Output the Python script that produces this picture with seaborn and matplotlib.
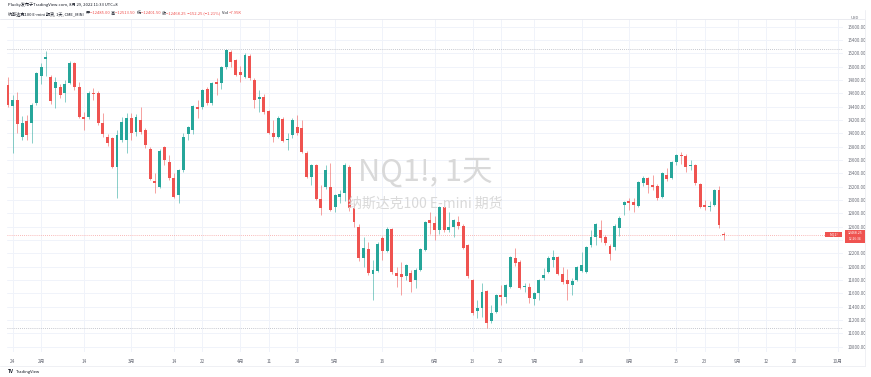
import numpy as np
import pandas as pd
import matplotlib
matplotlib.use("Agg")
import matplotlib.pyplot as plt
from matplotlib.lines import Line2D
from matplotlib.patches import Rectangle
import seaborn as sns

# ---------------- data ----------------
opens = [14725, 14410, 14500, 13945, 14185, 14155, 14455, 14860, 15115, 14845,
         14680, 14695, 14605, 14755, 15055, 14695, 14245, 14245, 14605, 14605,
         14155, 13945, 13930, 13495, 13900, 13900, 14230, 14020, 14200, 14050,
         13765, 13285, 13195, 13795, 13570, 13330, 13075, 13450, 13990, 14050,
         14395, 14395, 14665, 14455, 14770, 14755, 14995, 15220, 15100, 14920,
         14845, 15160, 14800, 14515, 14545, 14335, 14005, 13945, 14215, 13900,
         13975, 14095, 14080, 13705, 13345, 13525, 13015, 13195, 13195, 12895,
         13045, 13105, 13495, 12880, 12595, 12130, 12265, 11890, 11935, 12430,
         12235, 12565, 11905, 11890, 11860, 11905, 11800, 11950, 12250, 12700,
         12655, 12550, 12895, 12550, 12595, 12670, 12610, 12325, 11800, 11335,
         11380, 11635, 11185, 11320, 11575, 11545, 11695, 12130, 12070, 11695,
         11695, 11515, 11605, 11830, 11920, 12100, 12145, 11890, 11800, 11725,
         11800, 11935, 11920, 12325, 12445, 12550, 12445, 12310, 12295, 12580,
         12925, 12985, 12970, 12910, 13255, 13330, 13225, 13210, 13045, 13375,
         13330, 13570, 13675, 13660, 13510, 13525, 13240, 12925, 12895, 12925,
         13150, 12485]
highs = [14845, 14575, 14620, 14260, 14275, 14455, 14920, 15050, 15235, 14875,
         14845, 14740, 14800, 15085, 15070, 14770, 14320, 14635, 14680, 14635,
         14305, 13990, 13945, 14050, 14245, 14305, 14305, 14290, 14395, 14080,
         13795, 13405, 13765, 13810, 13675, 13405, 13465, 14005, 14110, 14425,
         14500, 14665, 14695, 14770, 14830, 15010, 15265, 15250, 15115, 15010,
         15205, 15190, 14830, 14650, 14590, 14350, 14200, 14260, 14245, 14005,
         14230, 14275, 14200, 13735, 13540, 13540, 13225, 13525, 13555, 13090,
         13150, 13555, 13525, 12955, 12640, 12450, 12370, 12100, 12370, 12460,
         12595, 12580, 11995, 12070, 12040, 11950, 11980, 12280, 12685, 12820,
         12760, 12910, 12925, 12820, 12720, 12760, 12640, 12340, 11815, 11500,
         11755, 11650, 11425, 11590, 11725, 11740, 12160, 12280, 12100, 11760,
         11755, 11620, 11815, 11980, 12160, 12250, 12160, 11995, 11965, 11830,
         12010, 12220, 12310, 12550, 12655, 12700, 12475, 12340, 12640, 12760,
         12985, 13030, 13030, 13285, 13360, 13345, 13375, 13240, 13420, 13480,
         13585, 13690, 13720, 13690, 13600, 13540, 13255, 13000, 12990, 13165,
         13210, 12513.5]
lows = [14390, 13705, 14005, 13900, 13900, 13855, 14425, 14740, 14860, 14440,
        14380, 14530, 14470, 14740, 14650, 14230, 14050, 14215, 14500, 14125,
        13945, 13810, 13480, 13030, 13870, 13705, 13900, 13960, 13990, 13780,
        13300, 13105, 13180, 13525, 13300, 13030, 12955, 13420, 13900, 13990,
        14230, 14365, 14425, 14425, 14575, 14665, 14965, 14995, 14860, 14770,
        14830, 14800, 14380, 14325, 14290, 13990, 13870, 13930, 13870, 13750,
        13930, 13975, 13705, 13330, 13225, 13000, 12775, 13165, 12835, 12820,
        12955, 12985, 12835, 12595, 12080, 11990, 11870, 11500, 11920, 12100,
        12220, 11890, 11695, 11575, 11800, 11620, 11680, 11930, 12235, 12490,
        12400, 12490, 12520, 12520, 12445, 12565, 12265, 11830, 11275, 11230,
        11250, 11075, 11150, 11305, 11425, 11450, 11680, 12010, 11665, 11620,
        11455, 11425, 11500, 11800, 11905, 11995, 11875, 11740, 11500, 11575,
        11785, 11920, 11905, 12295, 12325, 12370, 12325, 12100, 12250, 12460,
        12775, 12850, 12820, 12895, 13210, 13105, 13150, 13000, 13030, 13290,
        13315, 13520, 13540, 13420, 13450, 13225, 12880, 12850, 12835, 12910,
        12580, 12401.5]
closes = [14425, 14500, 14140, 14155, 13975, 14425, 14905, 14995, 15145, 14485,
          14770, 14575, 14740, 15055, 14695, 14245, 14215, 14605, 14590, 14155,
          13990, 13855, 13495, 13975, 14170, 14230, 14005, 14245, 14020, 13825,
          13315, 13255, 13735, 13600, 13330, 13045, 13450, 13945, 14095, 14410,
          14365, 14650, 14455, 14755, 14740, 14995, 15250, 15070, 14875, 14875,
          15175, 14830, 14500, 14545, 14320, 14005, 13945, 14230, 13885, 13915,
          14200, 14005, 13720, 13345, 13525, 13015, 12880, 13450, 12850, 13075,
          13090, 13525, 12880, 12670, 12130, 12280, 11905, 11950, 12340, 12235,
          12565, 11920, 11860, 11845, 12025, 11770, 11950, 12265, 12670, 12655,
          12550, 12895, 12550, 12595, 12700, 12610, 12280, 11860, 11305, 11380,
          11620, 11155, 11305, 11575, 11545, 11725, 12145, 12055, 11680, 11710,
          11530, 11605, 11800, 11875, 12130, 12145, 11890, 11770, 11740, 11785,
          11995, 12025, 12295, 12445, 12640, 12430, 12355, 12190, 12610, 12730,
          12970, 12955, 12925, 13270, 13330, 13225, 13195, 13030, 13405, 13315,
          13570, 13675, 13660, 13495, 13530, 13255, 12895, 12895, 12910, 13150,
          12620, 12468.25]

holidays = ["2022-02-21", "2022-04-15", "2022-05-30", "2022-06-20", "2022-07-04", "2022-09-05"]
tick_dates = ["2022-01-24", "2022-02-01", "2022-02-14", "2022-03-01", "2022-03-14", "2022-03-22",
              "2022-04-01", "2022-04-11", "2022-04-20", "2022-05-02", "2022-05-16", "2022-06-01",
              "2022-06-13", "2022-06-22", "2022-07-01", "2022-07-18", "2022-08-01", "2022-08-15",
              "2022-08-23", "2022-09-01", "2022-09-12", "2022-09-20", "2022-10-03"]
tick_labels = ["24", "2月", "14", "3月", "14", "22", "4月", "11", "20", "5月", "16", "6月",
               "13", "22", "7月", "18", "8月", "15", "23", "9月", "12", "20", "10月"]
price_levels = [10800, 11000, 11200, 11400, 11600, 11800, 12000, 12200, 12400, 12600, 12800,
                13000, 13200, 13400, 13600, 13800, 14000, 14200, 14400, 14600, 14800, 15000,
                15200, 15400, 15600]
period_high = 15265
period_low = 11075
last_price = 12468.25

# ---------------- calendar ----------------
days = pd.bdate_range("2022-01-21", "2022-10-31")
days = days[~days.isin(pd.to_datetime(holidays))]
pos = {d: i for i, d in enumerate(days)}
tick_pos = [pos[pd.Timestamp(d)] for d in tick_dates]

df = pd.DataFrame({"open": opens, "high": highs, "low": lows, "close": closes})
df["idx"] = np.arange(len(df))
df["up"] = df["close"] >= df["open"]

UP = "#26a69a"
DOWN = "#ef5350"

# ---------------- figure ----------------
sns.set_theme(style="white")
plt.rcParams["font.family"] = ["Noto Sans CJK SC", "DejaVu Sans"]
plt.rcParams["axes.unicode_minus"] = False

W, H = 871, 377
fig = plt.figure(figsize=(W / 100, H / 100), dpi=100)
fig.patch.set_facecolor("white")

L, R, T, B = 7, 843, 19, 352
ax = fig.add_axes([L / W, 1 - B / H, (R - L) / W, (B - T) / H])
step = 4.74
x0 = 8
ax.set_xlim((L - x0) / step, (R - x0) / step)
ax.set_ylim(12400 - (B - 240) * 15, 12400 + (240 - T) * 15)

# grid
for p in price_levels:
    ax.axhline(p, color="#f0f3fa", lw=0.7, zorder=0)
for t in tick_pos:
    ax.axvline(t, color="#f0f3fa", lw=0.7, zorder=0)

# watermark
fig.text(425 / W, 1 - 172 / H, "NQ1!, 1天", fontsize=22, color="#d9d9d9",
         ha="center", va="center", zorder=0)
fig.text(425 / W, 1 - 204 / H, "纳斯达克100 E-mini 期货", fontsize=10, color="#d9d9d9",
         ha="center", va="center", zorder=0)

# high / low / last price lines
ax.axhline(period_high, color="#b2b5be", lw=0.6, ls=(0, (1, 1.5)), zorder=1)
ax.axhline(period_low, color="#b2b5be", lw=0.6, ls=(0, (1, 1.5)), zorder=1)
ax.axhline(last_price, color="#f7a1a0", lw=0.6, ls=(0, (1, 1.5)), zorder=1)

# candles
colors = np.where(df["up"], UP, DOWN)
ax.vlines(df["idx"], df["low"], df["high"], colors=colors, lw=0.7, alpha=0.55, zorder=2)
body_bottom = np.minimum(df["open"], df["close"])
body_h = np.maximum(np.abs(df["close"] - df["open"]), 14)
ax.bar(df["idx"], body_h, bottom=body_bottom, width=0.62, color=colors,
       edgecolor="none", linewidth=0, zorder=3)

# axes cosmetics
sns.despine(ax=ax, left=True, bottom=True, right=True, top=True)
ax.yaxis.tick_right()
ax.set_yticks(price_levels)
# the 12400 label is hidden behind the last-price tag in the reference
ax.set_yticklabels(["" if p == 12400 else f"{p:.2f}" for p in price_levels])
ax.tick_params(axis="y", length=0, pad=3, labelsize=3.2, labelcolor="#6a6d78")
ax.set_xticks(tick_pos)
ax.set_xticklabels(tick_labels)
ax.tick_params(axis="x", length=0, pad=5, labelsize=3.4, labelcolor="#6a6d78")
ax.grid(False)

# frame lines (pane borders)
fig.add_artist(Line2D([0, 865 / W], [1 - 19 / H, 1 - 19 / H], color="#e6e8ee", lw=0.6))
fig.add_artist(Line2D([0, 865 / W], [1 - 366 / H, 1 - 366 / H], color="#eceef2", lw=0.6))
fig.add_artist(Line2D([865 / W, 865 / W], [1 - 366 / H, 1 - 10 / H], color="#eceef2", lw=0.6))

# price tags on the right
tag = Rectangle((845 / W, 1 - 242.5 / H), 20 / W, 13 / H, transform=fig.transFigure,
                facecolor="#ef5350", edgecolor="none", zorder=5)
fig.add_artist(tag)
fig.text(855 / W, 1 - 233 / H, "12468.25", fontsize=2.5, color="white", ha="center",
         va="center", zorder=6)
fig.text(855 / W, 1 - 239.5 / H, "12:26:34", fontsize=2.3, color="white", ha="center",
         va="center", zorder=6)
tag2 = Rectangle((825 / W, 1 - 237 / H), 17 / W, 5 / H, transform=fig.transFigure,
                 facecolor="#ef5350", edgecolor="none", zorder=5)
fig.add_artist(tag2)
fig.text(833.5 / W, 1 - 234.5 / H, "NQ1!", fontsize=2.6, color="white", ha="center",
         va="center", zorder=6)
fig.text(855 / W, 1 - 18 / H, "USD", fontsize=3, color="#6a6d78", ha="center", va="center")

# header
fig.text(8 / W, 1 - 5 / H, "Plucky发布于TradingView.com, 8月 29, 2022 11:33 UTC+8",
         fontsize=3, color="#131722", ha="left", va="center")
hdr = [("纳斯达克100 E-mini 期货, 1天, CME_MINI  ", "#131722"),
       ("开", "#131722"), ("=12485.00  ", "#ef5350"),
       ("高", "#131722"), ("=12513.50  ", "#ef5350"),
       ("低", "#131722"), ("=12401.50  ", "#ef5350"),
       ("收", "#131722"), ("=12468.25  −152.25 (−1.21%)  ", "#ef5350"),
       ("Vol", "#131722"), ("=7.95K", "#ef5350")]
fig.canvas.draw()
renderer = fig.canvas.get_renderer()
xpos = 8
for s, c in hdr:
    t = fig.text(xpos / W, 1 - 13.5 / H, s, fontsize=3, color=c, ha="left", va="center")
    bb = t.get_window_extent(renderer=renderer)
    xpos += bb.width

# bottom logo
fig.text(8 / W, 1 - 371.5 / H, "TV", fontsize=3.4, color="#131722", ha="left", va="center",
         fontweight="bold")
fig.text(16 / W, 1 - 371.5 / H, "TradingView", fontsize=3, color="#131722", ha="left",
         va="center")

fig.savefig("out.png", dpi=100, facecolor="white")
